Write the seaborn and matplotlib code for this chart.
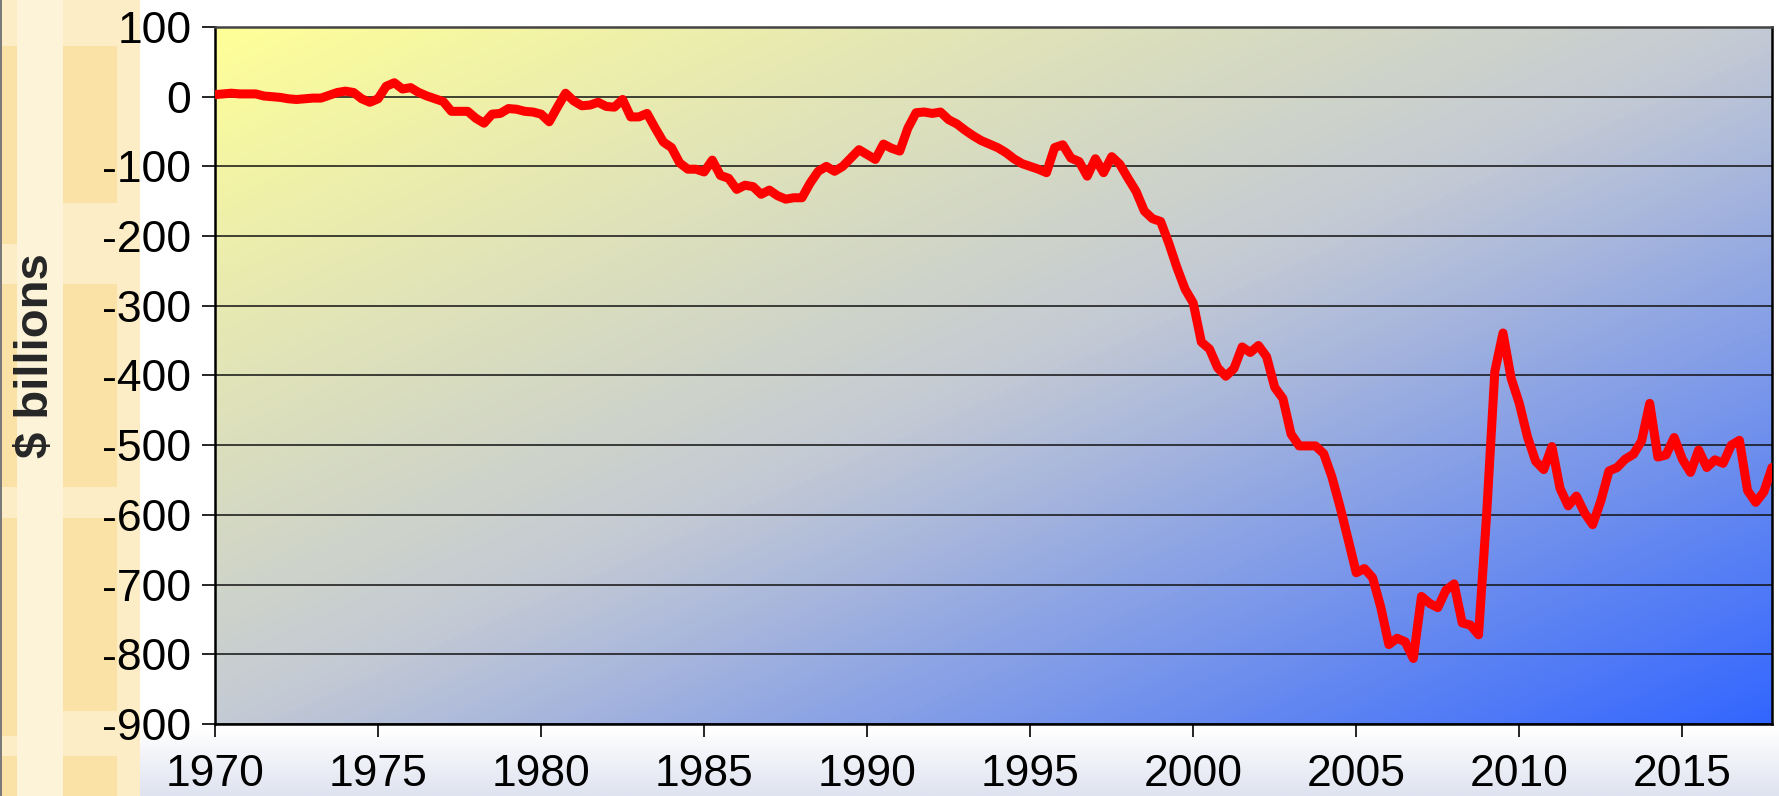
import numpy as np
import matplotlib.pyplot as plt
import seaborn as sns
from matplotlib.colors import LinearSegmentedColormap
from matplotlib.patches import Rectangle

sns.set_style('ticks')
plt.rcParams['font.family'] = ['Liberation Sans', 'DejaVu Sans']
plt.rcParams['axes.unicode_minus'] = False

# Quarterly values, $ billions
balance_1970s = [3, 4, 5, 4, 4, 4, 1, 0, -1, -3, -4, -3, -2, -2, 2, 6,
                 8, 6, -3, -8, -3, 15, 20, 11, 13, 6, 1, -3, -7, -21, -21, -21,
                 -31, -38, -25, -24, -17, -18, -21, -22]
balance_1980s = [-25, -36, -15, 5, -6, -13, -12, -8, -14, -15, -4, -29,
                 -29, -24, -45, -65, -73, -95, -104, -104, -108, -91, -113, -117,
                 -133, -127, -129, -140, -134, -142, -147, -145, -145, -124, -107, -100,
                 -107, -100, -88, -76]
balance_1990s = [-83, -90, -68, -74, -78, -45, -23, -22, -24, -22, -33, -39,
                 -48, -56, -63, -68, -73, -80, -89, -96, -100, -104, -109, -73,
                 -69, -88, -93, -114, -89, -109, -86, -97, -117, -136, -164, -175,
                 -179, -210, -245, -276]
balance_2000s = [-296, -352, -362, -389, -401, -390, -359, -367, -357, -373, -417, -433,
                 -484, -501, -501, -501, -512, -545, -588, -635, -683, -677, -690, -732,
                 -786, -777, -782, -806, -717, -727, -733, -708, -699, -755, -758, -772,
                 -598, -394, -339, -404]
balance_2010s = [-440, -488, -523, -535, -502, -562, -587, -573, -597, -614, -580, -537,
                 -532, -520, -513, -494, -440, -517, -514, -489, -520, -539, -507, -532,
                 -521, -526, -500, -493, -565, -582, -567, -532]

balance = balance_1970s + balance_1980s + balance_1990s + balance_2000s + balance_2010s
quarters = np.arange(1970, 2018, 0.25)[:len(balance)]

y_ticks = list(range(-900, 101, 100))
x_ticks = list(range(1970, 2016, 5))

W, H = 1779, 796
fig = plt.figure(figsize=(W / 100, H / 100), dpi=100)

# slide background: white, pale stripe on the left, faint blue fade at the bottom
bg = fig.add_axes([0, 0, 1, 1], zorder=-10)
bg.set_xlim(0, W)
bg.set_ylim(H, 0)
bg.axis('off')
fade = LinearSegmentedColormap.from_list('fade', ['#FFFFFF', '#DFE3F0'])
bg.imshow(np.linspace(0, 1, 60)[:, None], extent=[140, W, H, 728], cmap=fade,
          aspect='auto', origin='upper')
bg.add_patch(Rectangle((0, 0), 140, H, color='#FCEDC6', lw=0))
bg.add_patch(Rectangle((17, 0), 46, H, color='#FDF3D8', lw=0))
for y0, y1 in [(46, 244), (284, 487), (518, 736), (756, 796)]:
    bg.add_patch(Rectangle((2, y0), 15, y1 - y0, color='#FAE1A6', lw=0))
for y0, y1 in [(46, 203), (284, 487), (518, 711), (756, 796)]:
    bg.add_patch(Rectangle((63, y0), 54, y1 - y0, color='#FAE1A6', lw=0))
bg.add_patch(Rectangle((0, 0), 2, H, color='#7A7A7A', lw=0))

ax = fig.add_axes([215 / W, 72 / H, 1557 / W, 697 / H])

# diagonal gradient fill of the plot area
grad = LinearSegmentedColormap.from_list('grad', ['#FFFF99', '#C4CAD4', '#3366FF'])
u, v = np.meshgrid(np.linspace(0, 1, 400), np.linspace(0, 1, 200))
ax.imshow((u + v) / 2, extent=[1970, 2017.75, -900, 100], origin='upper',
          cmap=grad, vmin=0, vmax=1, aspect='auto', zorder=0)

sns.lineplot(x=quarters, y=balance, color='#FF0000', linewidth=6.5, ax=ax, zorder=3)
ax.lines[-1].set_solid_joinstyle('round')

ax.set_xlim(1970, 2017.75)
ax.set_ylim(-900, 100)
ax.set_xticks(x_ticks)
ax.set_yticks(y_ticks)
ax.set_yticklabels([str(t) for t in y_ticks])
ax.set_xlabel('')
ax.set_ylabel('')
ax.grid(axis='y', color='#111111', linewidth=1.1, zorder=1)
ax.grid(axis='x', visible=False)
ax.tick_params(axis='both', direction='out', length=9.5, width=1.2, colors='black',
               labelsize=32)
ax.tick_params(axis='y', pad=7.5)
ax.tick_params(axis='x', pad=12)
for side in ['left', 'bottom', 'right']:
    ax.spines[side].set_visible(True)
    ax.spines[side].set_color('black')
    ax.spines[side].set_linewidth(1.8)
ax.spines['top'].set_visible(True)
ax.spines['top'].set_color('#444444')
ax.spines['top'].set_linewidth(1.8)

fig.text(36 / W, 1 - 356 / H, '$ billions', rotation=90, ha='center', va='center',
         fontsize=34, fontweight='bold')

fig.savefig('out.png', dpi=100)
